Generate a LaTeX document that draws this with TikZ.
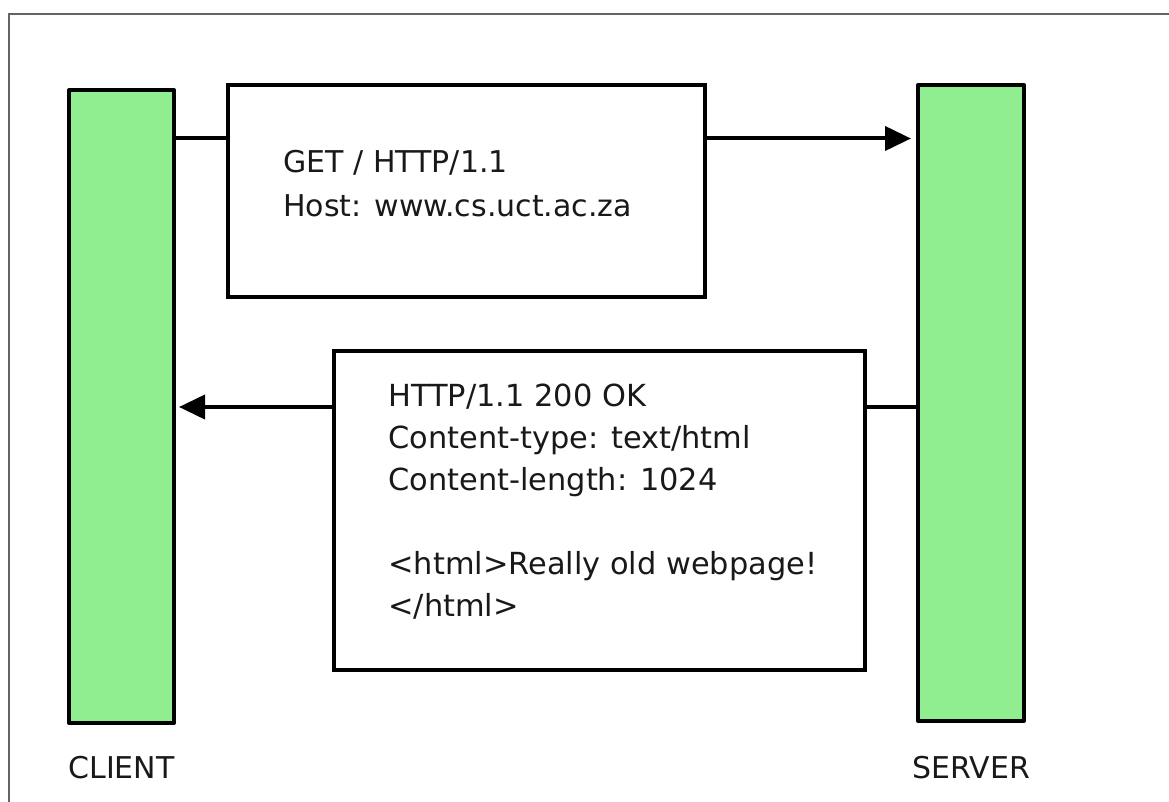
\documentclass[tikz,border=0pt]{standalone}
\usepackage{fontspec}
\setmainfont{DejaVu Sans}
\usetikzlibrary{arrows.meta}
\definecolor{barfill}{RGB}{144,238,144}
\definecolor{framegray}{RGB}{100,100,100}
\definecolor{txt}{RGB}{25,25,25}
\tikzset{
  bar/.style={draw=black, fill=barfill, line width=2pt, line join=round, inner sep=0pt},
  msgbox/.style={draw=black, fill=white, line width=2pt, inner sep=0pt},
  conn/.style={draw=black, line width=2pt},
  arr/.style={conn, -{Triangle[length=13pt,width=12pt]}},
  msgtext/.style={anchor=north west, inner sep=0pt, align=left, text=txt},
  lbl/.style={anchor=base west, inner sep=0pt, text=txt, font=\fontsize{15pt}{18pt}\selectfont}
}
\begin{document}
\begin{tikzpicture}[x=0.5pt,y=-0.5pt]
\useasboundingbox (0,0) rectangle (1169,802);
% outer frame (top and left edges only visible)
\draw[framegray, line width=1pt] (9,802) -- (9,14) -- (1169,14);
% lifelines
\node[bar, minimum width=52.5pt, minimum height=316.5pt] (client) at (121.5,406.5) {};
\node[bar, minimum width=53pt, minimum height=318pt] (server) at (971,403) {};
% message boxes
\node[msgbox, minimum width=238.5pt, minimum height=106pt] (req) at (466.5,191) {};
\node[msgbox, minimum width=265.5pt, minimum height=159.5pt] (resp) at (599.5,510.5) {};
% texts
\node[msgtext, font=\fontsize{15pt}{22pt}\selectfont] (reqtext) at (283,150)
  {GET / HTTP/1.1\\Host: www.cs.uct.ac.za};
\node[msgtext, font=\fontsize{15.2pt}{21pt}\selectfont] (resptext) at (388,384)
  {HTTP/1.1 200 OK\\Content-type: text/html\\Content-length: 1024\\[21pt]%
   <html>Really old webpage!\\</html>};
% labels
\node[lbl] (clientlbl) at (68,778) {CLIENT};
\node[lbl] (serverlbl) at (912,778) {SERVER};
% connectors
\coordinate (yreq) at (0,138.5);
\coordinate (yresp) at (0,407);
\draw[conn] (client.east |- yreq) -- (req.west |- yreq);
\draw[arr, shorten >=2.5pt] (req.east |- yreq) -- (server.west |- yreq);
\draw[conn] (server.west |- yresp) -- (resp.east |- yresp);
\draw[arr, shorten >=1.5pt] (resp.west |- yresp) -- (client.east |- yresp);
\end{tikzpicture}
\end{document}
